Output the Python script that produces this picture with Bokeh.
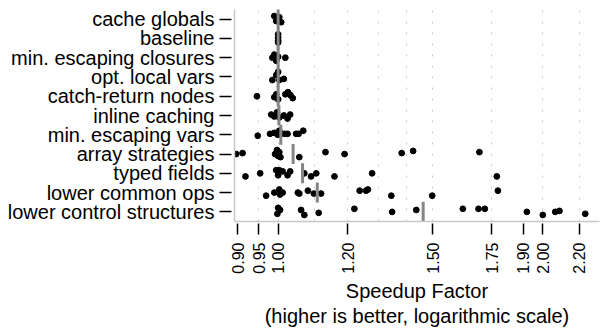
import math
from bokeh.plotting import figure
from bokeh.models import FactorRange, Range1d, FixedTicker, ColumnDataSource
from bokeh.embed import file_html
from bokeh.resources import INLINE

# ---------------- data ----------------
categories = [
    "cache globals", "baseline", "min. escaping closures", "opt. local vars",
    "catch-return nodes", "inline caching", "min. escaping vars",
    "array strategies", "typed fields", "lower common ops",
    "lower control structures",
]

cache_globals = [0.99, 0.995, 1.0, 1.003, 1.008]
baseline = [1.0, 1.0, 1.0, 1.0]
min_escaping_closures = [0.985, 0.99, 0.995, 1.0, 1.019]
opt_local_vars = [0.985, 0.995, 1.0, 1.003, 1.015]
catch_return_nodes = [0.946, 0.99, 0.995, 1.0, 1.019, 1.026, 1.033, 1.039]
inline_caching = [0.982, 0.99, 0.997, 1.003, 1.015, 1.025, 1.032]
min_escaping_vars = [0.948, 0.979, 0.99, 0.999, 1.003, 1.007, 1.017, 1.025,
                     1.048, 1.055, 1.068]
array_strategies = [0.896, 0.911, 0.992, 0.997, 1.0, 1.003, 1.006, 1.057,
                    1.132, 1.19, 1.382, 1.424, 1.694]
typed_fields = [0.918, 0.954, 0.995, 1.003, 1.0, 1.012, 1.025, 1.032, 1.071,
                1.09, 1.105, 1.159, 1.279, 1.773]
lower_common_ops = [0.969, 0.99, 1.003, 1.005, 1.012, 1.053, 1.057, 1.081,
                    1.098, 1.119, 1.238, 1.259, 1.265, 1.345, 1.497, 1.778]
lower_control_structures = [1.0, 1.005, 0.998, 1.062, 1.071, 1.112, 1.221,
                            1.348, 1.436, 1.622, 1.69, 1.718, 1.918, 2.0,
                            2.066, 2.089, 2.235]

# vertical jitter of each point (fraction of a row)
jitter = [
    [0.16, -0.10, 0.0, 0.10, -0.16],
    [0.21, 0.05, -0.10, -0.21],
    [0.0, 0.16, -0.16, 0.05, 0.0],
    [-0.16, 0.10, 0.26, -0.16, -0.10],
    [0.0, -0.05, 0.10, -0.16, 0.10, 0.21, 0.05, -0.10],
    [0.05, -0.05, 0.16, -0.10, 0.0, -0.16, 0.05],
    [-0.05, 0.05, 0.10, 0.0, 0.21, 0.05, 0.05, 0.05, 0.05, 0.05, 0.21],
    [0.0, 0.05, 0.0, 0.21, -0.10, 0.10, -0.16, -0.16, 0.10, 0.0, 0.05, 0.16, 0.10],
    [-0.16, 0.0, 0.16, 0.16, -0.10, 0.10, -0.10, 0.10, 0.0, -0.16, 0.0, -0.16, 0.0, -0.16],
    [-0.16, 0.0, 0.16, -0.10, 0.0, 0.0, -0.05, 0.10, -0.05, -0.05, 0.10, 0.10, 0.16, -0.16, -0.16, 0.10],
    [0.21, 0.10, -0.10, 0.10, -0.16, -0.05, 0.16, 0.0, 0.10, 0.16, 0.16, 0.16, 0.0, -0.16, 0.0, 0.05, -0.10],
]

# grey summary marker per category
summary = [1.0, 1.0, 1.0, 1.0, 1.0, 1.002, 1.007, 1.04, 1.066, 1.108, 1.462]

tick_values = [0.90, 0.95, 1.00, 1.20, 1.50, 1.75, 1.90, 2.00, 2.20]
tick_labels = ["0.90", "0.95", "1.00", "1.20", "1.50", "1.75", "1.90", "2.00", "2.20"]
grid_values = [0.95, 1.0, 1.1, 1.2, 1.3, 1.4, 1.5, 1.75, 2.0, 2.2]

series = [cache_globals, baseline, min_escaping_closures, opt_local_vars,
          catch_return_nodes, inline_caching, min_escaping_vars,
          array_strategies, typed_fields, lower_common_ops,
          lower_control_structures]

# ---------------- figure ----------------
FONT = "Liberation Sans"

p = figure(
    frame_width=365, frame_height=212,
    x_axis_type="log",
    x_range=Range1d(0.892, 2.32),
    y_range=FactorRange(factors=list(reversed(categories))),
    output_backend="svg", toolbar_location=None,
    min_border_left=234, min_border_right=1, min_border_top=9, min_border_bottom=104,
)
p.outline_line_color = None
p.background_fill_color = "white"
p.border_fill_color = "white"

# points
xs, ys = [], []
for cat, vals, jit in zip(categories, series, jitter):
    for v, j in zip(vals, jit):
        xs.append(v)
        ys.append((cat, j))
src = ColumnDataSource(dict(x=xs, y=ys))
p.scatter("x", "y", source=src, size=5.8, fill_color="black", line_color="black")

# summary segments (drawn on top of the points)
seg = ColumnDataSource(dict(
    x=summary,
    y0=[(c, -0.52) for c in categories],
    y1=[(c, 0.52) for c in categories],
))
p.segment(x0="x", x1="x", y0="y0", y1="y1", source=seg,
          line_color="#858585", line_width=3, line_cap="butt")

# grid
p.ygrid.grid_line_color = None
p.xgrid.ticker = FixedTicker(ticks=grid_values)
p.xgrid.grid_line_color = "#c8c8c8"
p.xgrid.grid_line_dash = "2 9"
p.xgrid.grid_line_width = 1

# x axis
xa = p.xaxis[0]
xa.ticker = FixedTicker(ticks=tick_values)
xa.major_label_overrides = {v: l for v, l in zip(tick_values, tick_labels)}
xa.major_label_orientation = math.pi / 2
xa.major_label_text_font = FONT
xa.major_label_text_font_size = "16px"
xa.major_label_text_color = "black"
xa.major_label_standoff = 8
xa.minor_tick_line_color = None
xa.major_tick_in = -2
xa.major_tick_out = 13
xa.major_tick_line_color = "black"
xa.major_tick_line_width = 1.5
xa.axis_line_color = "#c8c8c8"
xa.axis_line_width = 1.5
xa.axis_label = "Speedup Factor\n(higher is better, logarithmic scale)"
xa.axis_label_text_font = FONT
xa.axis_label_text_font_size = "20px"
xa.axis_label_text_font_style = "normal"
xa.axis_label_text_color = "black"
xa.axis_label_text_line_height = 1.15
xa.axis_label_standoff = 3

# y axis
ya = p.yaxis[0]
ya.major_label_text_font = FONT
ya.major_label_text_font_size = "20px"
ya.major_label_text_color = "black"
ya.major_label_standoff = 5
ya.major_tick_in = -3
ya.major_tick_out = 15
ya.major_tick_line_color = "black"
ya.major_tick_line_width = 1.5
ya.axis_line_color = "#c8c8c8"
ya.axis_line_width = 1.5

open("out.html", "w").write(file_html(p, INLINE))
